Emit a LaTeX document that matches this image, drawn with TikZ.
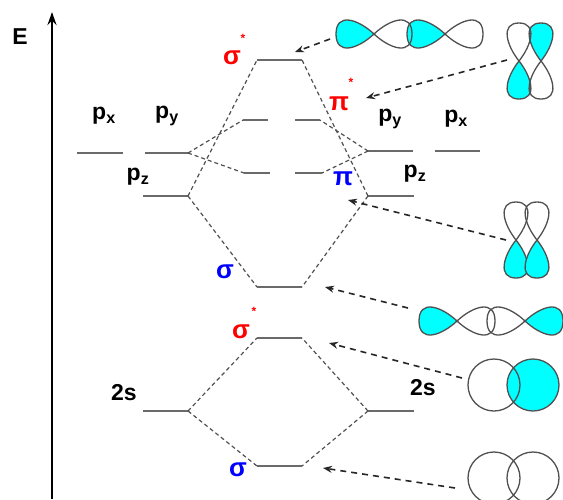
\documentclass[tikz,border=0pt]{standalone}
\usepackage{fontspec}
\setmainfont{Liberation Sans}
\usetikzlibrary{arrows.meta}

\definecolor{lvlgray}{HTML}{6A6A6A}
\definecolor{dashgray}{HTML}{505050}
\definecolor{orbline}{HTML}{505050}
\definecolor{orbcyan}{HTML}{00FFFF}
\definecolor{mored}{HTML}{FF0000}
\definecolor{moblue}{HTML}{0000FF}

\begin{document}
\begin{tikzpicture}[x=1pt, y=-1pt,
    every node/.style={font=\bfseries\fontsize{23}{25}\selectfont, inner sep=0pt},
    level/.style={fill=lvlgray, minimum width=#1, minimum height=2.2pt, inner sep=0pt, outer sep=0pt},
    corr/.style={dashgray, dash pattern=on 4pt off 3pt, line width=1.2pt},
    arr/.style={-{Stealth[open, length=9pt, width=7pt]}, black!85, dash pattern=on 6pt off 5pt, line width=1.6pt},
    greek/.style={font=\bfseries\fontsize{26}{28}\selectfont},
    star/.style={font=\bfseries\fontsize{12}{12}\selectfont, text=mored},
    full/.style={draw=orbline, fill=orbcyan, line width=1.3pt},
    hollow/.style={draw=orbline, line width=1.3pt},
    pics/lobe/.style={code={
        \path[#1] (0,0) .. controls (16,15) and (38,22) .. (38,0)
                        .. controls (38,-22) and (16,-15) .. (0,0) -- cycle;}}
]
\useasboundingbox (0,0) rectangle (563,499);
\clip (0,0) rectangle (563,499);

% energy axis
\coordinate (ax0) at (52,499);
\coordinate (ax1) at (52,12);
\draw[line width=2.2pt, -{Stealth[length=13pt, width=9pt]}] (ax0) -- (ax1);
\node[font=\bfseries\fontsize{23}{24}\selectfont] (E) at (20,37) {E};

% atomic levels, left atom
\node[level=46] (pxA) at (100,153) {};
\node[level=43] (pyA) at (166.5,153) {};
\node[level=45] (pzA) at (165.5,196) {};
\node[level=45] (sA)  at (165.5,411) {};
% atomic levels, right atom
\node[level=45] (pyB) at (390.5,151) {};
\node[level=45] (pxB) at (457.5,151) {};
\node[level=46] (pzB) at (391,196) {};
\node[level=46] (sB)  at (391,411) {};

% molecular levels
\node[level=45] (sgpx) at (279.5,60) {};
\node[level=25] (pix1) at (255.5,120) {};
\node[level=25] (pix2) at (307.5,120) {};
\node[level=26] (pi1)  at (257,173) {};
\node[level=27] (pi2)  at (308.5,173) {};
\node[level=45] (sgp)  at (279.5,287) {};
\node[level=45] (sgsx) at (279.5,338) {};
\node[level=45] (sgs)  at (279.5,466) {};

% labels
\node (tpxA) at (104,116) {p\textsubscript{x}};
\node (tpyA) at (167,116) {p\textsubscript{y}};
\node (tpzA) at (138,177) {p\textsubscript{z}};
\node (tpyB) at (390,119) {p\textsubscript{y}};
\node (tpxB) at (456,119) {p\textsubscript{x}};
\node (tpzB) at (415,174) {p\textsubscript{z}};
\node (tsA)  at (124,393) {2s};
\node (tsB)  at (423,388) {2s};

\node[greek, text=mored]  (tsgpx) at (232,58)  {σ};
\node[star]               (ssgpx) at (243,38)  {*};
\node[greek, text=mored]  (tpix)  at (339,104) {π};
\node[star]               (spix)  at (351,82)  {*};
\node[greek, text=moblue] (tpi)   at (343,179) {π};
\node[greek, text=moblue] (tsgp)  at (225,272) {σ};
\node[greek, text=mored]  (tsgsx) at (241,332) {σ};
\node[star]               (ssgsx) at (254,311) {*};
\node[greek, text=moblue] (tsgs)  at (238,470) {σ};

% correlation lines
\draw[corr] (pzA.east) -- (sgpx.west);
\draw[corr] (pzA.east) -- (sgp.west);
\draw[corr] (pyA.east) -- (pix1.west);
\draw[corr] (pyA.east) -- (pi1.west);
\draw[corr] (pyB.west) -- (pix2.east);
\draw[corr] (pyB.west) -- (pi2.east);
\draw[corr] (pzB.west) -- (sgpx.east);
\draw[corr] (pzB.west) -- (sgp.east);
\draw[corr] (sA.east) -- (sgsx.west);
\draw[corr] (sA.east) -- (sgs.west);
\draw[corr] (sB.west) -- (sgsx.east);
\draw[corr] (sB.west) -- (sgs.east);

% orbital sketches: sigma*(2p)
\pic[rotate=180] at (374,34) {lobe=full};
\pic[rotate=180] at (445,34) {lobe=full};
\pic at (374,34) {lobe=hollow};
\pic at (445,34) {lobe=hollow};
% pi*(2p)
\pic[rotate=-90, yscale=.85] at (519,61) {lobe=full};
\pic[rotate=90, yscale=.85]  at (541,61) {lobe=full};
\pic[rotate=90, yscale=.85]  at (519,61) {lobe=hollow};
\pic[rotate=-90, yscale=.85] at (541,61) {lobe=hollow};
% pi(2p)
\pic[rotate=-90, yscale=.85] at (516,240) {lobe=full};
\pic[rotate=-90, yscale=.85] at (537,240) {lobe=full};
\pic[rotate=90, yscale=.85]  at (516,240) {lobe=hollow};
\pic[rotate=90, yscale=.85]  at (537,240) {lobe=hollow};
% sigma(2p)
\pic[rotate=180] at (457,321) {lobe=full};
\pic at (525,321) {lobe=full};
\pic at (457,321) {lobe=hollow};
\pic[rotate=180] at (525,321) {lobe=hollow};
% sigma*(2s)
\fill[orbcyan] (533,385) circle (26);
\draw[hollow] (494,385) circle (26);
\draw[hollow] (533,385) circle (26);
% sigma(2s)
\draw[hollow] (494,478) circle (26);
\draw[hollow] (533,478) circle (26);

% arrows from the sketches to their levels
\coordinate (oA) at (330,39);  \coordinate (eA) at (295,52);
\coordinate (oB) at (507,60);  \coordinate (eB) at (366,98);
\coordinate (oC) at (506,240); \coordinate (eC) at (348,200);
\coordinate (oD) at (408,308); \coordinate (eD) at (325,287);
\coordinate (oE) at (462,378); \coordinate (eE) at (329,343);
\coordinate (oF) at (455,488); \coordinate (eF) at (323,468);
\draw[arr] (oA) -- (eA);
\draw[arr] (oB) -- (eB);
\draw[arr] (oC) -- (eC);
\draw[arr] (oD) -- (eD);
\draw[arr] (oE) -- (eE);
\draw[arr] (oF) -- (eF);
\end{tikzpicture}
\end{document}
